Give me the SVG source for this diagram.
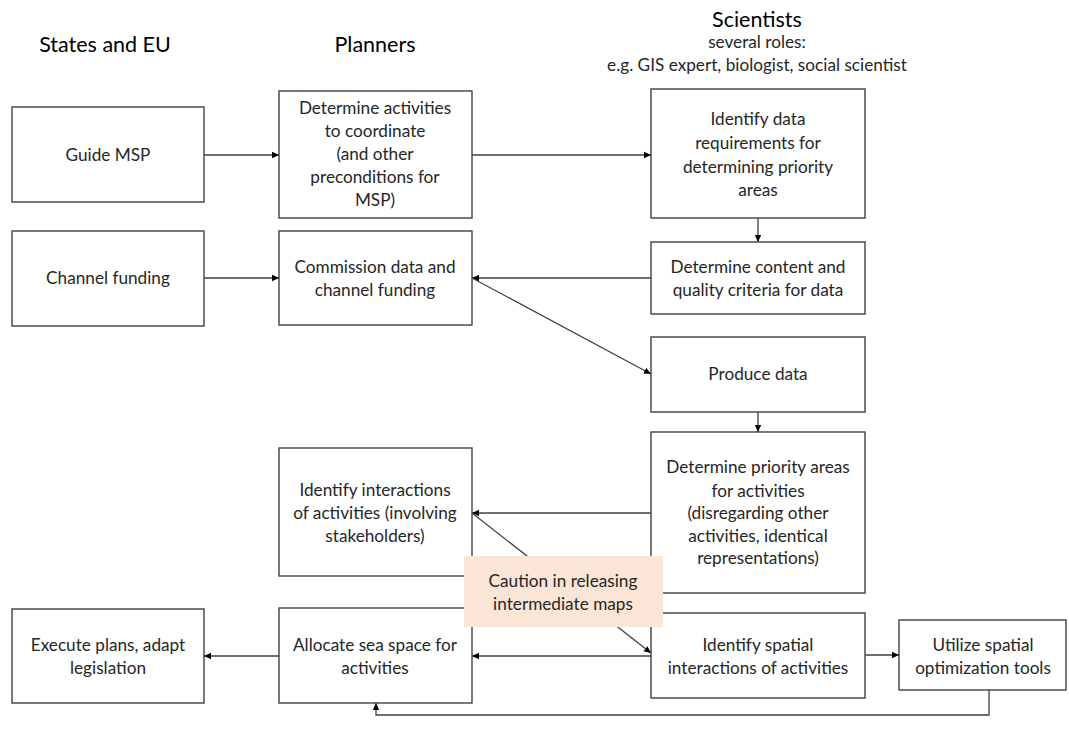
<svg xmlns="http://www.w3.org/2000/svg" width="1069" height="729" viewBox="0 0 1069 729">
<defs>
<marker id="ah" markerWidth="8" markerHeight="8" refX="7" refY="4" orient="auto" markerUnits="userSpaceOnUse">
<path d="M0,0.8 L7,4 L0,7.2 Z" fill="#000"/>
</marker>
<style>
.box{fill:#fff;stroke:#404040;stroke-width:1.4}
.note{fill:#fbe5d6;stroke:none}
.t{font-family:Lato,"Open Sans","Liberation Sans",sans-serif;font-size:17.2px;fill:#262626;text-anchor:middle}
.h{font-family:Lato,"Open Sans","Liberation Sans",sans-serif;font-size:21.5px;fill:#000;text-anchor:middle}
.c{fill:none;stroke:#404040;stroke-width:1.3}
.a{marker-end:url(#ah)}
</style>
</defs>
<rect width="1069" height="729" fill="#fff"/>

<g id="headers">
<text class="h" x="105" y="52">States and EU</text>
<text class="h" x="375" y="52">Planners</text>
<text class="h" x="757" y="27">Scientists</text>
<text class="t" x="757" y="48">several roles:</text>
<text class="t" x="757" y="71">e.g. GIS expert, biologist, social scientist</text>
</g>

<g id="connectors">
<path class="c a" d="M204,155 L279,155"/>
<path class="c a" d="M472,155 L651,155"/>
<path class="c a" d="M758,218 L758,242"/>
<path class="c a" d="M204,278 L279,278"/>
<path class="c a" d="M651,278 L472,278"/>
<path class="c a" d="M472,278 L651,374"/>
<path class="c a" d="M758,412 L758,432"/>
<path class="c a" d="M651,513 L472,513"/>
<path class="c a" d="M472,513 L651,653"/>
<path class="c a" d="M651,656 L472,656"/>
<path class="c a" d="M279,656 L204,656"/>
<path class="c a" d="M865,655 L899,655"/>
<path class="c a" d="M989,690 L989,715 L376,715 L376,703"/>
</g>

<g id="guide-msp">
<rect class="box" x="12" y="107" width="192" height="95"/>
<text class="t" x="108" y="161">Guide MSP</text>
</g>
<g id="channel-funding">
<rect class="box" x="12" y="231" width="192" height="95"/>
<text class="t" x="108" y="284">Channel funding</text>
</g>
<g id="execute-plans">
<rect class="box" x="12" y="609" width="192" height="94"/>
<text class="t" x="108" y="651">Execute plans, adapt</text>
<text class="t" x="108" y="674">legislation</text>
</g>

<g id="determine-activities">
<rect class="box" x="279" y="91" width="193" height="127"/>
<text class="t" x="375" y="114">Determine activities</text>
<text class="t" x="375" y="137">to coordinate</text>
<text class="t" x="375" y="160">(and other</text>
<text class="t" x="375" y="183">preconditions for</text>
<text class="t" x="375" y="206">MSP)</text>
</g>
<g id="commission-data">
<rect class="box" x="279" y="231" width="193" height="94"/>
<text class="t" x="375" y="273">Commission data and</text>
<text class="t" x="375" y="296">channel funding</text>
</g>
<g id="identify-interactions">
<rect class="box" x="279" y="448" width="193" height="128"/>
<text class="t" x="375" y="496">Identify interactions</text>
<text class="t" x="375" y="519">of activities (involving</text>
<text class="t" x="375" y="542">stakeholders)</text>
</g>
<g id="allocate-sea-space">
<rect class="box" x="279" y="608" width="193" height="95"/>
<text class="t" x="375" y="651">Allocate sea space for</text>
<text class="t" x="375" y="674">activities</text>
</g>

<g id="identify-data">
<rect class="box" x="651" y="89" width="214" height="129"/>
<text class="t" x="758" y="125">Identify data</text>
<text class="t" x="758" y="149">requirements for</text>
<text class="t" x="758" y="173">determining priority</text>
<text class="t" x="758" y="196">areas</text>
</g>
<g id="determine-content">
<rect class="box" x="651" y="242" width="214" height="72"/>
<text class="t" x="758" y="273">Determine content and</text>
<text class="t" x="758" y="296">quality criteria for data</text>
</g>
<g id="produce-data">
<rect class="box" x="651" y="337" width="214" height="75"/>
<text class="t" x="758" y="380">Produce data</text>
</g>
<g id="determine-priority">
<rect class="box" x="651" y="432" width="214" height="161"/>
<text class="t" x="758" y="473">Determine priority areas</text>
<text class="t" x="758" y="497">for activities</text>
<text class="t" x="758" y="519">(disregarding other</text>
<text class="t" x="758" y="542">activities, identical</text>
<text class="t" x="758" y="564">representations)</text>
</g>
<g id="identify-spatial">
<rect class="box" x="651" y="613" width="214" height="85"/>
<text class="t" x="758" y="651">Identify spatial</text>
<text class="t" x="758" y="674">interactions of activities</text>
</g>
<g id="utilize-tools">
<rect class="box" x="899" y="620" width="167" height="70"/>
<text class="t" x="983" y="651">Utilize spatial</text>
<text class="t" x="983" y="674">optimization tools</text>
</g>

<g id="caution-note">
<rect class="note" x="464" y="556" width="199" height="71"/>
<text class="t" x="563" y="587">Caution in releasing</text>
<text class="t" x="563" y="610">intermediate maps</text>
</g>
</svg>
